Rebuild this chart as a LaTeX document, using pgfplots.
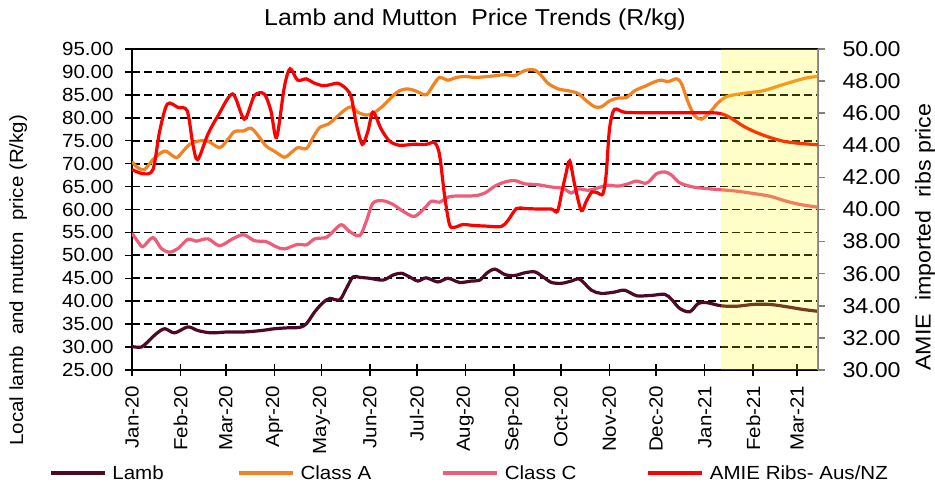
\documentclass[border=0pt]{standalone}
\usepackage{fontspec}
\setmainfont{Liberation Sans}[FakeStretch=1.08]
\usepackage{pgfplots}
\pgfplotsset{compat=1.18}
\definecolor{lambc}{RGB}{77,10,38}
\definecolor{classa}{RGB}{245,130,32}
\definecolor{classc}{RGB}{238,92,120}
\definecolor{amie}{RGB}{255,0,0}
\definecolor{fc}{RGB}{255,250,0}
\begin{document}
\begin{tikzpicture}
\path[use as bounding box] (0,0) rectangle (935bp,488bp);
\begin{axis}[
  at={(132bp,118bp)}, anchor=south west,
  scale only axis, width=686bp, height=321bp,
  xmin=0, xmax=438.4, ymin=25, ymax=95,
  font=\fontsize{19bp}{23bp}\selectfont,
  /pgf/number format/assume math mode=true,
  axis line style={black, line width=2bp},
  ytick={25,30,...,95},
  yticklabel style={xshift=-8bp, /pgf/number format/.cd, fixed, fixed zerofill, precision=2},
  xtick={0,31,60,91,121,152,182,213,244,274,305,335,366,397,425},
  xticklabels={Jan-20,Feb-20,Mar-20,Apr-20,May-20,Jun-20,Jul-20,Aug-20,Sep-20,Oct-20,Nov-20,Dec-20,Jan-21,Feb-21,Mar-21},
  xticklabel style={rotate=90, anchor=east, inner xsep=12bp},
  xtick pos=bottom, ytick pos=left,
  xtick align=center, ytick align=outside,
  major tick length=7bp,
  xtick style={/pgfplots/major tick length=13bp, black, line width=1.5bp},
  ytick style={black, line width=1.5bp},
  ymajorgrids,
  major grid style={black, dash pattern=on 8bp off 4bp, line width=1.8bp},
  title={Lamb and Mutton\ \ Price Trends (R/kg)},
  title style={font=\fontsize{23bp}{27bp}\selectfont, at={(axis description cs:0.5,1)}, anchor=base, yshift=18bp},
  ylabel={Local lamb\ \ and mutton\ \ price (R/kg)},
  ylabel style={at={(axis description cs:-0.166,0.28)}, anchor=center, rotate=0},
  legend columns=4,
  legend style={at={(axis description cs:-0.1254,-0.3209)}, anchor=west, draw=none, fill=none,
    nodes={inner sep=0pt}, column sep=6bp, font=\fontsize{19bp}{23bp}\selectfont},
  legend image code/.code={\draw[#1] (0bp,0bp) -- (54bp,0bp);},
  every axis plot/.append style={line width=3.2bp, smooth, tension=0.5},
]
\addplot[lambc] coordinates {(0,30.1) (6,30.0) (10.2,31.2) (15.5,32.9) (20.9,34.0) (27.2,33.1) (35.7,34.4) (42.1,33.6) (50.6,33.1) (61.3,33.3) (71.9,33.3) (82.5,33.6) (91.1,34.0) (99.6,34.2) (107.2,34.3) (111.5,35.1) (116.8,37.7) (122.1,39.7) (126.4,40.6) (132.7,40.3) (137,42.8) (141.2,45.3) (145.5,45.2) (151.9,45.0) (160.4,44.6) (166.8,45.7) (172.1,46.1) (177.4,45.3) (182.7,44.4) (188,45.1) (195.5,44.2) (201.9,45.0) (209.3,44.1) (217,44.4) (222.3,44.6) (226.6,46.1) (231.9,47.0) (238.3,45.8) (244.6,45.6) (251,46.2) (257.4,46.4) (262.7,45.3) (268,44.1) (274.4,43.9) (280.8,44.4) (286.1,44.8) (293.6,42.4) (300,41.7) (308.5,42.0) (314.8,42.4) (322.3,41.2) (328.7,41.2) (333,41.3) (340.5,41.5) (344.8,40.4) (350.1,38.4) (356.5,37.7) (361.8,39.5) (367.1,39.7) (376.5,39.0) (386.4,38.9) (397,39.3) (407.6,39.3) (418.3,38.8) (428.9,38.2) (438.4,37.8)};
\addplot[classa] coordinates {(0,70.4) (3.8,69.1) (8,68.7) (13.4,70.9) (18.7,72.4) (21.9,72.7) (28.3,71.3) (32.6,72.7) (36.8,74.2) (42.1,74.9) (48.5,74.9) (56,73.5) (61.3,75.3) (65.5,77.0) (70.8,77.1) (76.2,77.7) (81.5,75.7) (85.8,73.8) (91.1,72.7) (97.4,71.4) (101.7,72.4) (106,73.5) (111.5,73.3) (115.7,75.7) (120,77.9) (125.3,78.6) (130.6,80.1) (135.9,81.7) (140.2,82.4) (144.5,81.2) (149.7,80.6) (155,81.2) (160.4,82.6) (166.8,84.8) (171,85.9) (176.3,86.3) (181.7,85.8) (188,85.0) (192.3,87.0) (196.5,88.8) (201.9,88.2) (207.2,88.8) (213.6,89.0) (218.8,88.8) (227.6,89.0) (238.3,89.4) (244.6,89.2) (251,90.3) (257.4,90.4) (261.6,89.2) (265.9,87.5) (272.3,86.3) (278.7,85.9) (285.1,85.3) (290.4,83.7) (295.7,82.4) (300,82.4) (305.3,83.7) (310.6,84.3) (315.9,84.4) (321.2,85.9) (328.7,87.0) (331,87.4) (337.3,88.2) (342.7,87.9) (348,88.5) (351.2,87.4) (355.5,83.3) (359.7,80.4) (364,79.7) (369.3,81.2) (374.6,83.3) (380,84.6) (386.4,85.1) (394.9,85.5) (403.4,85.9) (411.9,86.8) (420.4,87.7) (431,88.7) (438.4,89.0)};
\addplot[classc] coordinates {(0,54.8) (3.8,53.0) (7,51.9) (13.4,53.9) (18.7,51.5) (24,50.7) (29.4,51.5) (35.7,53.5) (41,53.1) (48.5,53.6) (56,52.1) (64.3,53.6) (71.3,54.5) (78.2,53.2) (85.6,53.0) (92,51.9) (97.4,51.4) (105.8,52.4) (111.5,52.3) (116.8,53.6) (124.2,53.9) (128.5,55.2) (133.8,56.7) (139.1,55.2) (145.5,54.3) (149.7,57.4) (154,61.4) (160.4,61.9) (166.8,61.1) (174.2,59.4) (180.6,58.5) (187,60.3) (191.3,61.8) (196.5,61.6) (200.8,62.5) (205,62.9) (218.8,63.0) (225.5,63.6) (231.9,65.1) (238.3,66.0) (244.6,66.3) (251,65.6) (259.5,65.4) (268,64.9) (275.5,64.6) (280.8,63.6) (285,64.5) (291.4,64.2) (297.7,64.7) (304,65.3) (310.6,65.1) (317,65.6) (322.3,66.2) (328,65.7) (331,66.3) (335.2,67.8) (340.5,68.2) (344.8,67.5) (350.1,65.8) (358.6,64.9) (369.3,64.5) (376.5,64.3) (386.4,64.0) (397,63.5) (407.6,62.9) (418.3,61.8) (426.8,61.1) (438.4,60.5)};
\addlegendimage{amie, line width=3.2bp}
\legend{\makebox[119bp][l]{Lamb},\makebox[135bp][l]{Class A},\makebox[136bp][l]{Class C},AMIE Ribs- Aus/NZ}
\end{axis}
\begin{axis}[
  at={(132bp,118bp)}, anchor=south west,
  scale only axis, width=686bp, height=321bp,
  xmin=0, xmax=438.4, ymin=30, ymax=50,
  font=\fontsize{21.5bp}{25bp}\selectfont,
  /pgf/number format/assume math mode=true,
  axis x line=none, axis y line*=right,
  y axis line style={gray, line width=2bp, -},
  ytick={30,32,...,50},
  yticklabel style={xshift=14bp, /pgf/number format/.cd, fixed, fixed zerofill, precision=2},
  ytick align=outside, major tick length=7bp,
  ytick style={gray, line width=1.5bp},
  ylabel={AMIE\ \ imported\ \ ribs price},
  ylabel style={at={(axis description cs:1.156,0.414)}, anchor=center, font=\fontsize{21.5bp}{25bp}\selectfont},
  every axis plot/.append style={line width=3.2bp, smooth, tension=0.5},
]
\addplot[amie] coordinates {(0,42.49) (7,42.23) (13.4,42.49) (17.7,44.89) (22.6,46.57) (29.4,46.36) (35.3,46.14) (38.9,44.06) (42,43.11) (48.5,44.69) (54.9,45.83) (64.3,47.2) (71.8,45.63) (78.2,47.09) (84.5,47.2) (88.8,46.14) (92.4,44.49) (97.3,47.6) (101,48.77) (105.8,48.06) (111.5,48.14) (115.7,47.91) (122,47.71) (126.4,47.77) (131.7,47.86) (137,47.51) (140.2,46.97) (143.4,45.31) (147.2,44.06) (150.8,44.89) (154,46.06) (159.3,45.0) (164.6,44.26) (171,44.0) (179.5,44.06) (188,44.06) (193.3,44.17) (196.5,43.43) (199.7,40.91) (202.9,39.06) (206,38.89) (211.4,39.06) (218.8,39.0) (225.5,38.97) (236,38.94) (240.4,39.34) (245.7,40.06) (251,40.06) (259.5,40.03) (268,40.03) (271.9,39.89) (274.8,41.14) (277.2,42.17) (279.7,43.03) (282.9,41.54) (287.1,39.94) (290.3,40.51) (293.9,41.09) (297.7,41.03) (300.9,40.97) (303,42.17) (305,44.89) (307.3,46.06) (309.5,46.26) (314.8,46.06) (328.7,46.03) (348,46.03) (369.3,46.03) (376.5,45.97) (382,45.74) (390.6,45.2) (399,44.8) (407.6,44.49) (416,44.26) (424.6,44.14) (438.4,44.03)};
\addplot[draw=none, fill=fc, fill opacity=0.21, sharp plot] coordinates {(376.5,30.27) (376.5,50) (438.4,50) (438.4,30.27)} \closedcycle;
\end{axis}
\end{tikzpicture}
\end{document}
